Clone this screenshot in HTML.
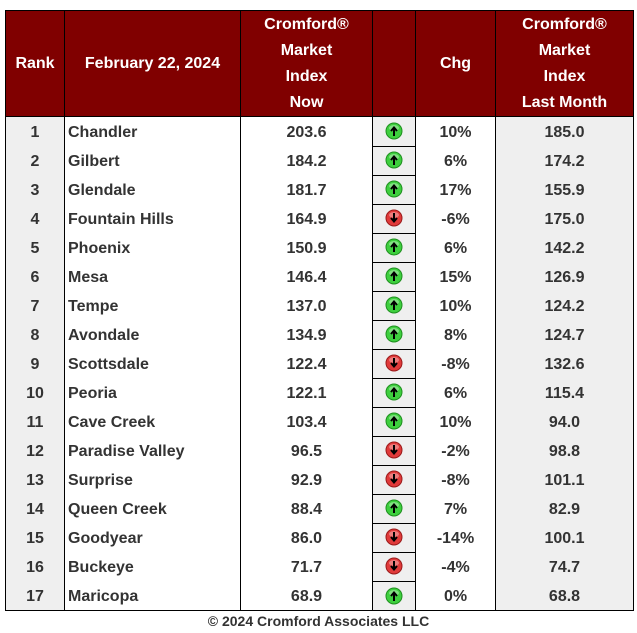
<!DOCTYPE html>
<html><head><meta charset="utf-8"><style>
body{margin:0;width:637px;height:633px;background:#fff;font-family:"Liberation Sans",sans-serif;font-weight:bold;color:#333;position:relative;overflow:hidden}
table{position:absolute;left:5px;top:10px;border-collapse:collapse;table-layout:fixed;width:629px}
th{background:#800000;color:#fff;font-size:16px;line-height:26px;height:105px;border:1px solid #000;padding:0;text-align:center;vertical-align:middle}
td{height:26px;padding:3px 0 0 0;font-size:16px;border-left:1px solid #000;border-right:1px solid #000;text-align:center}
td.name{text-align:left;padding-left:3px}
td.g{background:#efefef}
td.ic{background:#efefef;border:1px solid #000;padding:0}
tr:last-child td{border-bottom:1px solid #000}
.foot{position:absolute;left:0;width:637px;top:613px;text-align:center;font-size:14px}
</style></head><body>
<table>
<colgroup><col style="width:59px"><col style="width:176px"><col style="width:132px"><col style="width:43px"><col style="width:80px"><col style="width:138px"></colgroup>
<thead><tr>
<th>Rank</th>
<th>February 22, 2024</th>
<th>Cromford®<br>Market<br>Index<br>Now</th>
<th></th>
<th>Chg</th>
<th>Cromford®<br>Market<br>Index<br>Last Month</th>
</tr></thead>
<tbody id="tb"></tbody></table>
<div class="foot">© 2024 Cromford Associates LLC</div>
<script>
const cities=["Chandler","Gilbert","Glendale","Fountain Hills","Phoenix","Mesa","Tempe","Avondale","Scottsdale","Peoria","Cave Creek","Paradise Valley","Surprise","Queen Creek","Goodyear","Buckeye","Maricopa"];
const nowVals=["203.6","184.2","181.7","164.9","150.9","146.4","137.0","134.9","122.4","122.1","103.4","96.5","92.9","88.4","86.0","71.7","68.9"];
const chgVals=["10%","6%","17%","-6%","6%","15%","10%","8%","-8%","6%","10%","-2%","-8%","7%","-14%","-4%","0%"];
const lastVals=["185.0","174.2","155.9","175.0","142.2","126.9","124.2","124.7","132.6","115.4","94.0","98.8","101.1","82.9","100.1","74.7","68.8"];
const tb=document.getElementById('tb');
function icon(up){
  const c=up?'#3ecf3e':'#e03a3a', d=up?'#1f8f1f':'#9a1a1a';
  const arrow=up?'M9 14V6M6 9l3-3.5 3 3.5':'M9 4v8M6 9l3 3.5 3-3.5';
  return '<svg width="18" height="18" viewBox="0 0 18 18" style="vertical-align:middle"><circle cx="9" cy="9" r="8" fill="'+c+'" stroke="'+d+'"/><ellipse cx="9" cy="6" rx="5" ry="3" fill="#fff" opacity=".35"/><path d="'+arrow+'" stroke="#000" stroke-width="2" fill="none"/></svg>';
}
cities.forEach((c,i)=>{
  const tr=document.createElement('tr');
  
  
  const up=!chgVals[i].startsWith('-');
  const cells=[[String(i+1),'g','rank'],[c,'name','city'],[nowVals[i],'','index-now'],[icon(up),'ic','trend-icon'],[chgVals[i],'','change'],[lastVals[i],'g','index-last-month']];
  cells.forEach(x=>{
    const td=document.createElement('td');
    td.innerHTML=x[0];td.className=x[1];
    
    
    tr.appendChild(td);
  });
  tb.appendChild(tr);
});
</script>
</body></html>
